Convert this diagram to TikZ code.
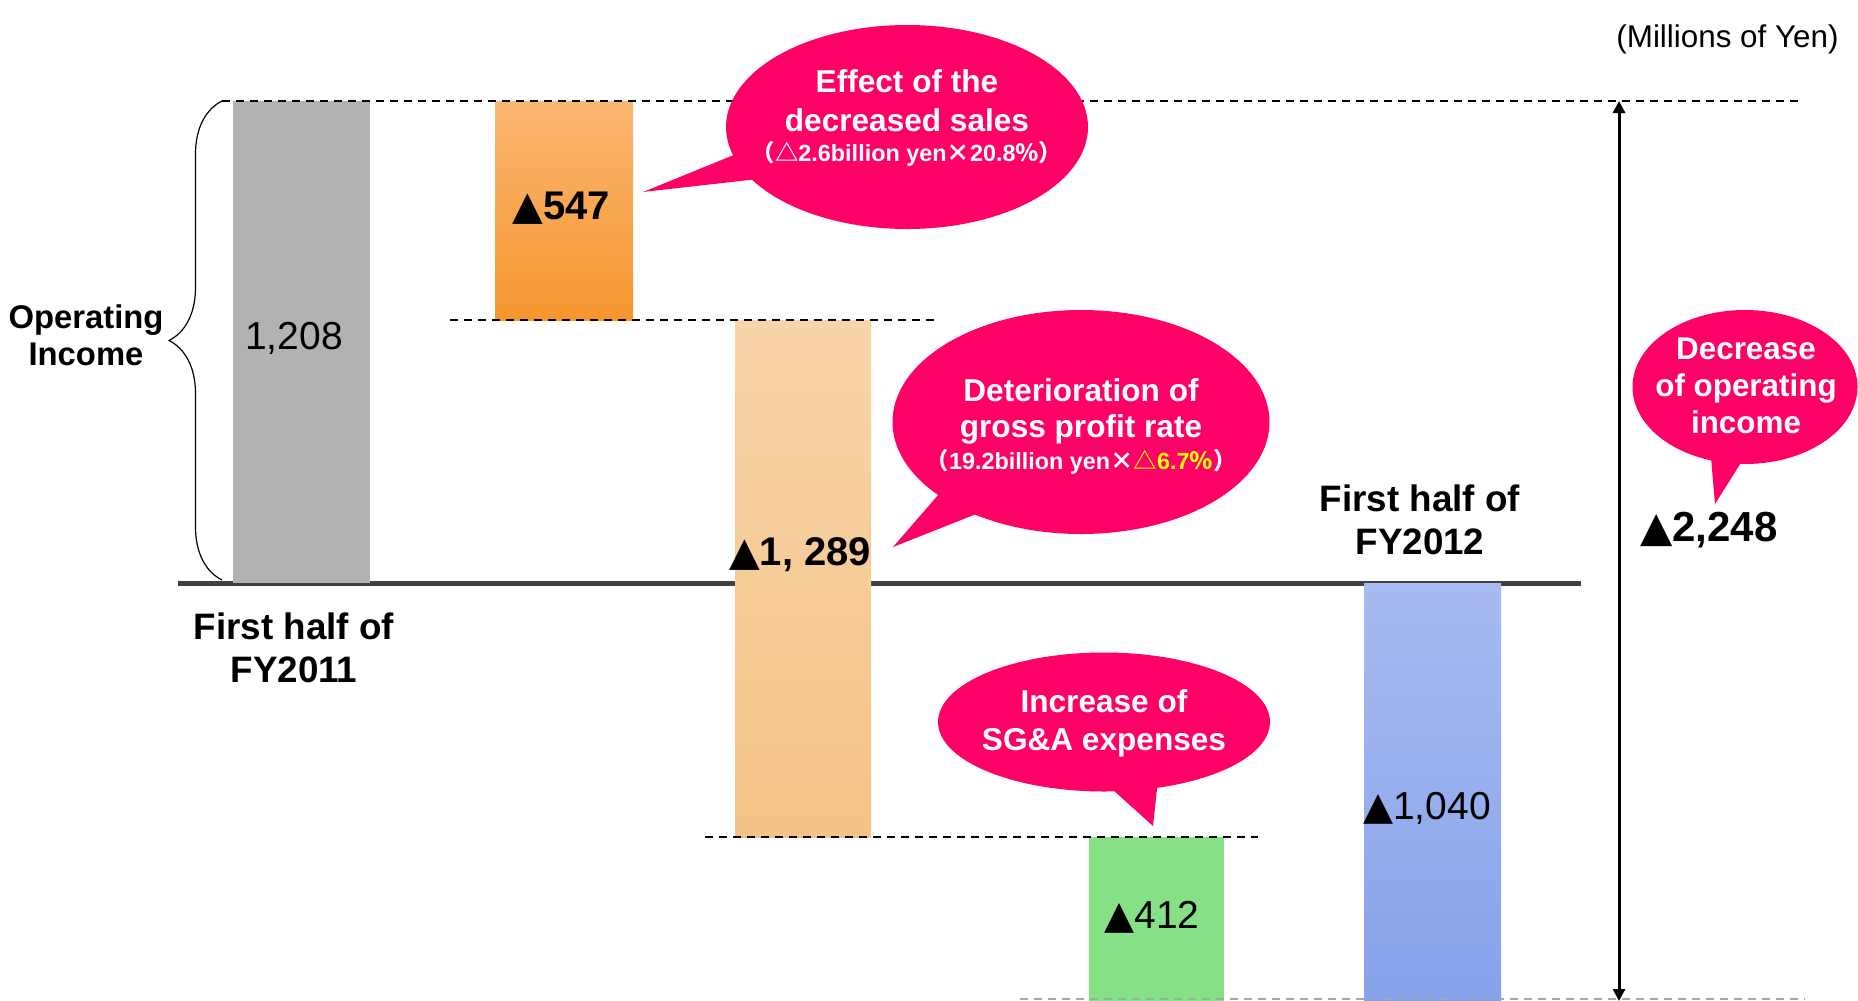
\documentclass[tikz,border=0pt]{standalone}
\usepackage{fontspec}
\setmainfont{Liberation Sans}
\newfontfamily\cjk{Noto Sans CJK JP}
\newfontfamily\symf{DejaVu Sans}
\usepackage{xcolor}
\definecolor{hotpink}{HTML}{FF0066}
\definecolor{bargray}{HTML}{B2B2B2}
\definecolor{orA}{HTML}{F9B772}
\definecolor{orB}{HTML}{F7962F}
\definecolor{peachA}{HTML}{F8D5AA}
\definecolor{peachB}{HTML}{F4C386}
\definecolor{sgagreen}{HTML}{86E086}
\definecolor{blueA}{HTML}{A7BBF1}
\definecolor{blueB}{HTML}{86A2EA}
\definecolor{axisgray}{HTML}{404040}
\definecolor{hlyellow}{HTML}{FFFF00}
\usetikzlibrary{positioning,arrows.meta,shapes.callouts,decorations.pathreplacing}
\newcommand{\subln}[1]{{\fontsize{11.7}{14}\selectfont #1}}
\newcommand{\tri}{{\symf ▲}}
\tikzset{
  >={Triangle[length=6pt,width=6pt]},
  zeroline/.style={draw=axisgray,line width=2.5pt},
  guide/.style={draw=black,line width=0.7pt,dash pattern=on 4pt off 3pt},
  brc/.style={decorate,decoration={brace,amplitude=26.5pt},line width=0.6pt},
  bubble/.style={ellipse callout,fill=hotpink,draw=none,inner sep=0pt},
  btxt/.style={text=white,font=\bfseries\fontsize{15.8}{19.5}\selectfont,align=center,inner sep=0pt},
  val/.style={font=\fontsize{19.5}{22}\selectfont,inner sep=0pt},
  valb/.style={inner sep=0pt,font=\bfseries\fontsize{20}{22}\selectfont},
  lbl/.style={font=\bfseries\fontsize{18.4}{21.5}\selectfont,align=center,inner sep=0pt},
}
\begin{document}
\begin{tikzpicture}[x=0.5pt,y=0.5pt]
  \useasboundingbox (0,0) rectangle (1858,-1001);
  \draw[zeroline] (178,-583) -- (1581,-583);
  \fill[bargray] (233,-101) rectangle (370,-583);
  \fill[top color=orA,bottom color=orB] (495,-101) rectangle (633,-320);
  \fill[top color=peachA,bottom color=peachB] (735,-320) rectangle (871,-837);
  \fill[sgagreen] (1089,-837) rectangle (1224,-1001);
  \fill[top color=blueA,bottom color=blueB] (1364,-583) rectangle (1501,-1001);
  \draw[guide] (222,-101) -- (1800,-101);
  \draw[guide] (450,-320) -- (936,-320);
  \draw[guide] (705,-837) -- (1258,-837);
  \draw[guide,draw=gray!70] (1020,-999) -- (1805,-999);
  \draw[brc] (222,-580) -- (222,-101);
  \draw[<->,line width=1.5pt] (1619,-1001) -- (1619,-101);
  \coordinate (effTip) at (643,-192);
  \coordinate (grossTip) at (893,-547);
  \coordinate (sgaTip) at (1153,-826);
  \coordinate (decTip) at (1715,-504);
  \node[bubble,minimum width=181pt,minimum height=102pt,callout absolute pointer={(effTip)}] (effect) at (907,-127) {};
  \node[bubble,minimum width=188.5pt,minimum height=112pt,callout absolute pointer={(grossTip)}] (gross) at (1081,-422) {};
  \node[bubble,minimum width=166pt,minimum height=69.5pt,callout absolute pointer={(sgaTip)}] (sga) at (1104,-722) {};
  \node[bubble,minimum width=112.5pt,minimum height=77pt,callout absolute pointer={(decTip)}] (dec) at (1745,-387) {};
  \node[btxt] (effTxt) at (907,-118) {Effect of the\\decreased sales\\[-4.5pt]\subln{{\cjk （△}2.6billion yen{\cjk ×}20.8{\cjk ％）}}};
  \node[btxt,font=\bfseries\fontsize{15.8}{18}\selectfont] (grossTxt) at (1081,-426) {Deterioration of\\gross profit rate\\[-2pt]\subln{{\cjk （}19.2billion yen{\cjk ×}{\color{hlyellow}{\cjk △}6.7{\cjk ％}}{\cjk ）}}};
  \node[btxt,font=\bfseries\fontsize{15.8}{19}\selectfont] (sgaTxt) at (1104,-723) {Increase of\\SG\&A expenses};
  \node[btxt,font=\bfseries\fontsize{15.7}{18.5}\selectfont] (decTxt) at (1746,-386) {Decrease\\of operating\\income};
  \node[val] (v1208) at (294,-338) {1,208};
  \node[valb] (v547) at (561,-208) {\tri547};
  \node[valb] (v1289) at (800,-555) {\tri1, 289};
  \node[val] (v412) at (1152,-917) {\tri412};
  \node[val] (v1040) at (1427,-808) {\tri1,040};
  \node[valb,font=\bfseries\fontsize{21}{24}\selectfont] (v2248) at (1709,-530) {\tri2,248};
  \node[lbl] (fy11) at (294,-648) {First half of\\FY2011};
  \node[lbl] (fy12) at (1420,-520) {First half of\\FY2012};
  \node[lbl,font=\bfseries\fontsize{16.4}{18.5}\selectfont] (opinc) at (86,-335) {Operating\\Income};
  \node[inner sep=0pt,anchor=east,font=\fontsize{15.7}{18}\selectfont] (unit) at (1839,-39) {(Millions of Yen)};
\end{tikzpicture}
\end{document}
